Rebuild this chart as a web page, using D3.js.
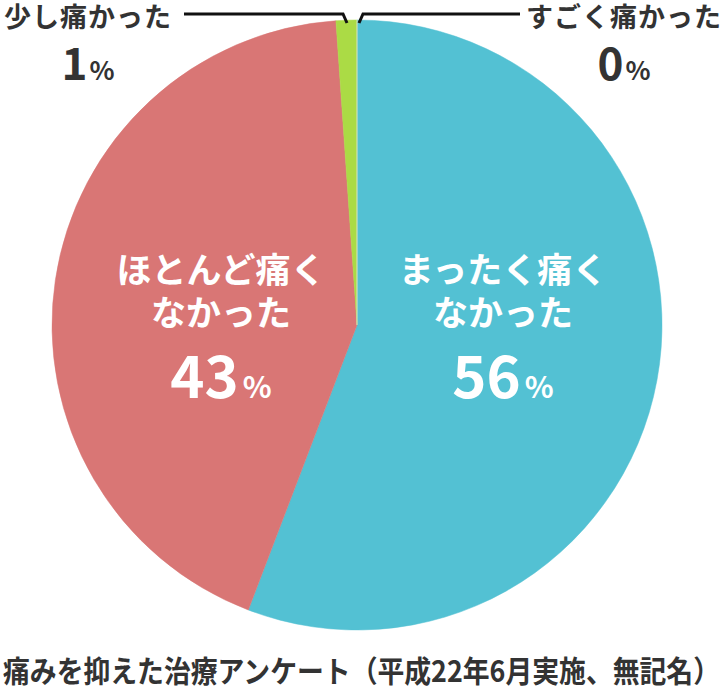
<!DOCTYPE html>
<html>
<head>
<meta charset="utf-8">
<script src="https://cdn.jsdelivr.net/npm/d3@7"></script>
<style>
  body { margin: 0; background: #fff; }
  text { font-family: "Noto Sans CJK JP", "Noto Sans", sans-serif; font-weight: bold; }
</style>
</head>
<body>
<div id="main"></div>
<script>
// chart data
const categories = ['まったく痛くなかった', 'ほとんど痛くなかった', '少し痛かった', 'すごく痛かった'];
const values = [55.8, 43.1, 1.1, 0];
const percentLabels = ['56', '43', '1', '0'];
const colors = ['#53c1d3', '#d97675', '#abdb45', '#e0e0e0'];
const innerLines = [['まったく痛く', 'なかった'], ['ほとんど痛く', 'なかった']];
const outerLabels = ['少し痛かった', 'すごく痛かった'];
const title = '痛みを抑えた治療アンケート（平成22年6月実施、無記名）';

const w = 723;
const h = 695;
const cx = 357;
const cy = 325;
const radius = 305;

const svg = d3.select('#main').
append('svg').
attr('width', w).
attr('height', h);

const pie = d3.pie().sort(null).value(d => d);
const arcs = pie(values);
const arc = d3.arc().innerRadius(0).outerRadius(radius);

const g = svg.append('g').
attr('transform', `translate(${cx},${cy})`);

g.selectAll('path').
data(arcs).
enter().
append('path').
attr('d', arc).
attr('fill', (d, i) => colors[i]).
attr('stroke', (d, i) => colors[i]).
attr('stroke-width', 0.5);

// inner labels (blue, red)
const innerPos = [503, 221];
innerLines.forEach((lines, i) => {
  const t = svg.append('g').attr('transform', `translate(${innerPos[i]},0)`);
  lines.forEach((line, j) => {
    t.append('text').
    attr('x', 0).
    attr('y', 283 + j * 43).
    attr('text-anchor', 'middle').
    attr('fill', '#fff').
    attr('font-size', '35px').
    text(line);
  });
  const pct = t.append('text').
  attr('x', 0).
  attr('y', 398).
  attr('text-anchor', 'middle').
  attr('fill', '#fff');
  pct.append('tspan').attr('font-size', '58px').text(percentLabels[i]);
  pct.append('tspan').attr('font-size', '30px').attr('dx', 4).text('%');
});

// outer labels
const outerPos = [88, 624];
outerLabels.forEach((label, i) => {
  svg.append('text').
  attr('x', outerPos[i]).
  attr('y', 27).
  attr('text-anchor', 'middle').
  attr('fill', '#333').
  attr('font-size', '27px').
  attr('letter-spacing', '1px').
  text(label);
  const pct = svg.append('text').
  attr('x', outerPos[i]).
  attr('y', 80).
  attr('text-anchor', 'middle').
  attr('fill', '#333');
  pct.append('tspan').attr('font-size', '44px').text(percentLabels[i + 2]);
  pct.append('tspan').attr('font-size', '26px').attr('dx', 2).text('%');
});

// leader lines
const line = d3.line();
svg.append('path').
attr('d', line([[184, 14], [343, 14], [347, 23]])).
attr('fill', 'none').
attr('stroke', '#111').
attr('stroke-width', 3);

svg.append('path').
attr('d', line([[359, 23], [363, 14], [520, 14]])).
attr('fill', 'none').
attr('stroke', '#111').
attr('stroke-width', 3);

// source title
svg.append('text').
attr('x', 3).
attr('y', 682).
attr('fill', '#333').
attr('font-size', '30px').
attr('textLength', 717).
attr('lengthAdjust', 'spacingAndGlyphs').
text(title);
</script>
</body>
</html>
